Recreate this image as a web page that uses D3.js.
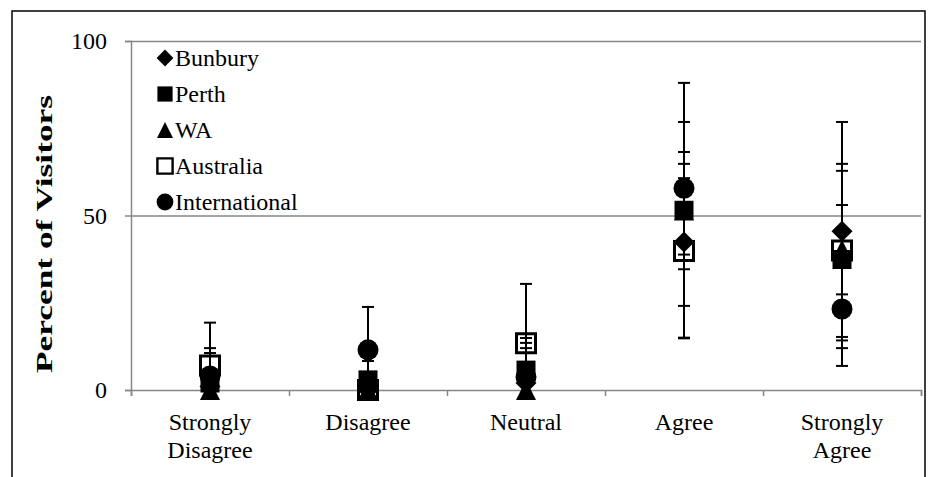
<!DOCTYPE html>
<html>
<head>
<meta charset="utf-8">
<script src="https://cdn.jsdelivr.net/npm/d3@7"></script>
<style>
  html, body { margin: 0; padding: 0; background: #fff; }
  svg { display: block; font-family: "Liberation Serif", "Times New Roman", serif; }
</style>
</head>
<body>
<svg id="chart" width="937" height="477"></svg>
<script>
// Response categories along the x axis
const categories = ["Strongly Disagree", "Disagree", "Neutral", "Agree", "Strongly Agree"];

// Percent of visitors per origin group, with symmetric error (±)
const bunbury          = [1,    0,    2,    42.4, 45.5];
const bunburyErr       = [5,    0,    10,   18.3, 31.3];
const perth            = [2,    2.9,  5.7,  51.5, 37.4];
const perthErr         = [10,   5.4,  9.2,  36.5, 25.4];
const wa               = [0,    0,    0,    51.4, 40.2];
const waErr            = [0,    0,    0,    16.8, 12.8];
const australia        = [7,    0,    13.4, 39.8, 40];
const australiaErr     = [12.3, 0,    17,   25,   24.8];
const international    = [4,    11.5, 3.7,  57.8, 23.2];
const internationalErr = [6.6,  12.3, 9.8,  19,   16.3];

const yTicks = [0, 50, 100];
const yTitle = "Percent of Visitors";

const series = [
  { name: "Bunbury",       shape: "diamond",  values: bunbury,       err: bunburyErr },
  { name: "Perth",         shape: "square",   values: perth,         err: perthErr },
  { name: "WA",            shape: "triangle", values: wa,            err: waErr },
  { name: "Australia",     shape: "hollow",   values: australia,     err: australiaErr },
  { name: "International", shape: "circle",   values: international, err: internationalErr }
];

const svg = d3.select("#chart");
const plot = { left: 131, right: 921, top: 41, bottom: 390 };

const x = d3.scaleBand().domain(categories).range([plot.left, plot.right]);
const xIdx = d3.scaleLinear().domain([0, categories.length]).range([plot.left, plot.right]);
const y = d3.scaleLinear().domain([0, 100]).range([plot.bottom, plot.top]);
const cx = c => x(c) + x.bandwidth() / 2;

const axisGrey = "#868686";

// outer frame
svg.append("rect")
  .attr("x", 12).attr("y", 11)
  .attr("width", 913).attr("height", 490)
  .attr("fill", "none").attr("stroke", "#000").attr("stroke-width", 1.5);

// horizontal gridlines
svg.append("g")
  .attr("transform", `translate(${plot.left},0)`)
  .call(d3.axisLeft(y).tickValues(yTicks.filter(v => v > 0)).tickSize(-(plot.right - plot.left)).tickFormat(""))
  .call(g => g.select(".domain").remove())
  .call(g => g.selectAll("line").attr("stroke", axisGrey).attr("stroke-width", 1.5));

// y axis
svg.append("g")
  .attr("transform", `translate(${plot.left},0)`)
  .call(d3.axisLeft(y).tickValues(yTicks).tickSize(6).tickPadding(18).tickFormat(d3.format("d")))
  .call(g => g.select(".domain").attr("stroke", axisGrey).attr("stroke-width", 1.5))
  .call(g => g.selectAll("line").attr("stroke", axisGrey).attr("stroke-width", 1.5))
  .call(g => g.selectAll("text")
    .attr("font-family", "Liberation Serif, serif")
    .attr("font-size", 24).attr("fill", "#000"));

// x axis: tick marks fall between categories
svg.append("g")
  .attr("transform", `translate(0,${plot.bottom})`)
  .call(d3.axisBottom(xIdx).tickValues(d3.range(categories.length + 1)).tickSize(6).tickFormat(""))
  .call(g => g.select(".domain").attr("stroke", axisGrey).attr("stroke-width", 1.5))
  .call(g => g.selectAll("line").attr("stroke", axisGrey).attr("stroke-width", 1.5));

// category labels, split onto two lines
const catLabels = svg.append("g")
  .attr("font-size", 24).attr("text-anchor", "middle").attr("fill", "#000");
categories.forEach(c => {
  const t = catLabels.append("text").attr("x", cx(c)).attr("y", 430);
  c.split(" ").forEach((w, i) => {
    t.append("tspan").attr("x", cx(c)).attr("dy", i === 0 ? 0 : 28).text(w);
  });
});

// y axis title (stretched along its length)
svg.append("text")
  .attr("transform", `translate(52,234) rotate(-90)`)
  .attr("text-anchor", "middle")
  .attr("font-size", 23).attr("font-weight", "bold")
  .attr("textLength", 278).attr("lengthAdjust", "spacingAndGlyphs")
  .text(yTitle);

// marker path builders
function markerPath(shape, s) {
  const p = d3.path();
  const h = s / 2;
  if (shape === "diamond") {
    p.moveTo(0, -h); p.lineTo(h, 0); p.lineTo(0, h); p.lineTo(-h, 0); p.closePath();
  } else if (shape === "square" || shape === "hollow") {
    p.rect(-h, -h, s, s);
  } else if (shape === "triangle") {
    p.moveTo(0, -h); p.lineTo(h, h); p.lineTo(-h, h); p.closePath();
  } else if (shape === "circle") {
    p.moveTo(h, 0); p.arc(0, 0, h, 0, Math.PI * 2);
  }
  return p.toString();
}
const markerSize = { diamond: 21, square: 19, triangle: 20, hollow: 19, circle: 21 };

function drawMarker(g, shape, px, py, scale) {
  const s = markerSize[shape] * scale;
  const m = g.append("path")
    .attr("transform", `translate(${px},${py})`)
    .attr("d", markerPath(shape, s));
  if (shape === "hollow") {
    m.attr("fill", "#fff").attr("stroke", "#000").attr("stroke-width", 3 * scale);
  } else {
    m.attr("fill", "#000");
  }
}

// markers: the hollow Australia squares sit beneath the filled markers
const markerOrder = ["Australia", "Bunbury", "Perth", "WA", "International"];
const markerLayer = svg.append("g");
markerOrder.forEach(n => {
  const s = series.find(d => d.name === n);
  s.values.forEach((v, i) => drawMarker(markerLayer, s.shape, cx(categories[i]), y(v), 1));
});

// error bars drawn above markers, clipped to the plot area
svg.append("clipPath").attr("id", "plotClip")
  .append("rect")
  .attr("x", plot.left).attr("y", plot.top - 10)
  .attr("width", plot.right - plot.left).attr("height", plot.bottom - plot.top + 10);

const errLayer = svg.append("g").attr("clip-path", "url(#plotClip)")
  .attr("stroke", "#000").attr("stroke-width", 2);
const capHalf = 6;
series.forEach(s => {
  s.values.forEach((v, i) => {
    const e = s.err[i];
    if (!e) return;
    const px = cx(categories[i]);
    const hi = y(v + e), lo = y(v - e);
    errLayer.append("line").attr("x1", px).attr("x2", px).attr("y1", hi).attr("y2", lo);
    errLayer.append("line").attr("x1", px - capHalf).attr("x2", px + capHalf).attr("y1", hi).attr("y2", hi);
    errLayer.append("line").attr("x1", px - capHalf).attr("x2", px + capHalf).attr("y1", lo).attr("y2", lo);
  });
});

// legend
const legend = svg.append("g").attr("font-size", 24).attr("fill", "#000");
series.forEach((s, i) => {
  const ly = 58 + i * 36;
  drawMarker(legend, s.shape, 165, ly, 0.8);
  legend.append("text").attr("x", 175).attr("y", ly).attr("dy", "0.35em").text(s.name);
});
</script>
</body>
</html>
